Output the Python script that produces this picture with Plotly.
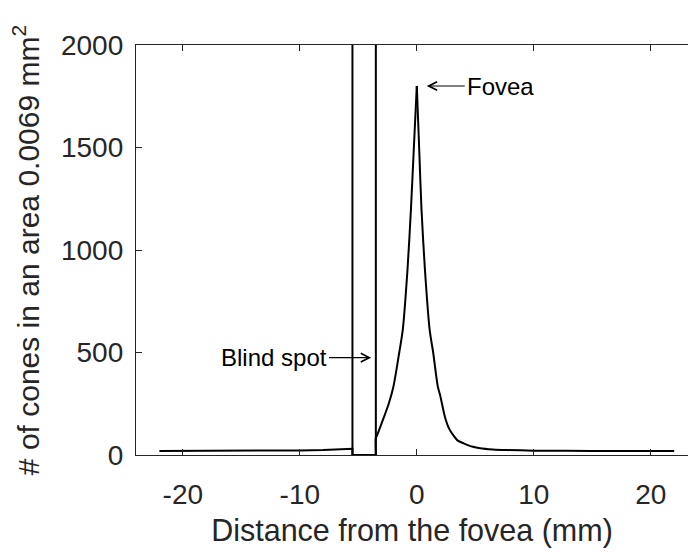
import plotly.graph_objects as go

# ---- data ----
left_x = [-22, -20, -15, -10, -8, -6.5, -5.5]
left_y = [20, 20, 21, 22, 24, 27, 30]

blind_spot = [-5.5, -3.5]          # blind-spot edges (mm)

center_x = [-3.5, -3.45, -2.9, -2.4, -2.0, -1.5, -1.2, -0.8, -0.5, -0.25, 0,
            0.2, 0.4, 0.7, 1.1, 1.4, 1.8, 2.0, 2.4, 2.75, 3.1, 3.5, 4.0, 4.8,
            5.4, 6.5, 7.7, 10, 15, 20, 22]
center_y = [85, 89, 171, 250, 333, 500, 610, 900, 1200, 1500, 1800,
            1500, 1200, 900, 610, 500, 333, 290, 187, 130, 98, 70, 57, 40,
            33, 27, 24, 21, 20, 20, 20]

x_ticks = [-20, -10, 0, 10, 20]
x_tick_text = ["-20", "-10", "0", "10", "20"]
y_ticks = [0, 500, 1000, 1500, 2000]
y_tick_text = ["0", "500", "1000", "1500", "2000"]

x_range = [-24, 23.18]
y_range = [0, 2000]

fovea_peak = (0, 1800)
blind_label_y = 475

FONT = "Arial, Liberation Sans, sans-serif"
AX = "#262626"

fig = go.Figure()
line = dict(color="black", width=2)

# baseline left of the blind spot, then zero inside the blind spot
fig.add_trace(go.Scatter(x=left_x + [blind_spot[0], blind_spot[1]],
                         y=left_y + [0, 0], mode="lines", line=line,
                         showlegend=False, hoverinfo="skip"))
# peak: two smooth halves sharing the sharp tip
ip = center_y.index(max(center_y))
fig.add_trace(go.Scatter(x=[blind_spot[1]] + center_x[:ip + 1],
                         y=[0] + center_y[:ip + 1], mode="lines",
                         line=dict(color="black", width=2, shape="spline", smoothing=0.8),
                         showlegend=False, hoverinfo="skip"))
fig.add_trace(go.Scatter(x=center_x[ip:], y=center_y[ip:], mode="lines",
                         line=dict(color="black", width=2, shape="spline", smoothing=0.8),
                         showlegend=False, hoverinfo="skip"))
# blind-spot edges
edge_x, edge_y = [], []
for e in blind_spot:
    edge_x += [e, e, None]
    edge_y += [y_range[0], y_range[1], None]
fig.add_trace(go.Scatter(x=edge_x, y=edge_y, mode="lines", line=line,
                         showlegend=False, hoverinfo="skip"))

fig.add_annotation(x=fovea_peak[0] + 0.85, y=fovea_peak[1], xref="x", yref="y",
                   ax=fovea_peak[0] + 4.1, ay=fovea_peak[1], axref="x", ayref="y",
                   text="Fovea", showarrow=True, xanchor="left",
                   arrowhead=5, arrowsize=1.4, arrowwidth=1.2, arrowcolor="black",
                   font=dict(family=FONT, size=24, color="black"))
fig.add_annotation(x=blind_spot[1] - 0.4, y=blind_label_y, xref="x", yref="y",
                   ax=blind_spot[1] - 4.0, ay=blind_label_y, axref="x", ayref="y",
                   text="Blind spot", showarrow=True, xanchor="right",
                   arrowhead=5, arrowsize=1.4, arrowwidth=1.2, arrowcolor="black",
                   font=dict(family=FONT, size=24, color="black"))

fig.update_layout(
    width=688, height=552,
    margin=dict(l=136, r=0, t=45, b=97),
    plot_bgcolor="white", paper_bgcolor="white",
    font=dict(family=FONT, color=AX),
    xaxis=dict(range=x_range, tickvals=x_ticks, ticktext=x_tick_text,
               showgrid=False, zeroline=False, showline=True, linecolor=AX,
               linewidth=1.3, mirror="ticks", ticks="inside", ticklen=6,
               tickcolor=AX, tickwidth=1.3, tickfont=dict(size=28, color=AX),
               ticklabelstandoff=14,
               title=dict(text="Distance from the fovea (mm)",
                          font=dict(size=30.5, color=AX), standoff=10)),
    yaxis=dict(range=y_range, tickvals=y_ticks, ticktext=y_tick_text,
               showgrid=False, zeroline=False, showline=True, linecolor=AX,
               linewidth=1.3, mirror=False, ticks="inside", ticklen=6,
               tickcolor=AX, tickwidth=1.3, tickfont=dict(size=28, color=AX),
               ticklabelstandoff=6,
               title=dict(text="# of cones in an area 0.0069 mm<sup>2</sup>",
                          font=dict(size=30, color=AX), standoff=12)),
)

fig.write_html("out.html")
